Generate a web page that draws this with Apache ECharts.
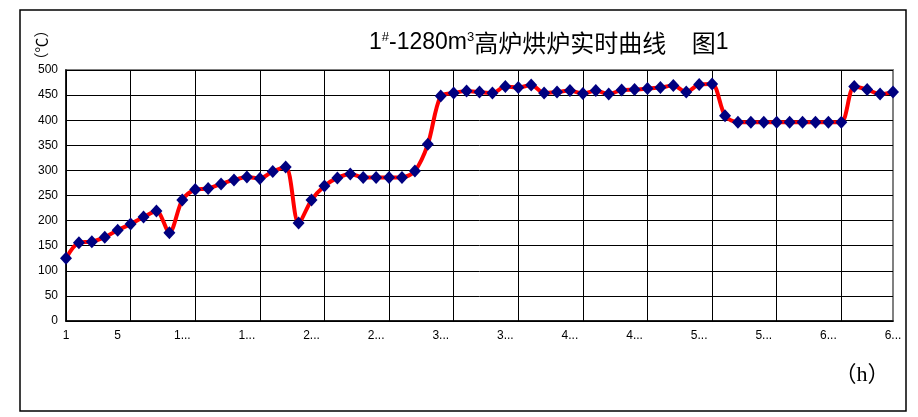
<!DOCTYPE html>
<html>
<head>
<meta charset="utf-8">
<script src="https://cdn.jsdelivr.net/npm/echarts@6/dist/echarts.min.js"></script>
<style>html,body{margin:0;padding:0;background:#fff;}#c{width:918px;height:417px;}</style>
</head>
<body>
<div id="c"></div>
<script>
// Hours (category axis)
var hours = ['1','2','3','4','5','6','7','8','9','10','11','12','13','14','15','16','17','18','19','20',
  '21','22','23','24','25','26','27','28','29','30','31','32','33','34','35','36','37','38','39','40',
  '41','42','43','44','45','46','47','48','49','50','51','52','53','54','55','56','57','58','59','60',
  '61','62','63','64','65'];
// Temperature (℃)
var temperature = [125,156,158,167,181,193,207,219,176,241,262,264,273,281,287,284,298,307,195,241,
  269,285,293,286,286,286,286,299,352,448,454,458,456,454,467,465,470,454,456,459,
  453,459,452,460,461,463,465,469,456,471,472,409,396,396,396,396,396,396,396,396,
  396,467,461,452,456];
// Hours whose tick label is shown
var labelHours = ['1','5','10','15','20','25','30','35','40','45','50','55','60','65'];
// Hours carrying a vertical grid line
var gridHours = ['1','6','11','16','21','26','31','36','41','46','51','56','61'];
var yTicks = [0,50,100,150,200,250,300,350,400,450,500];

var chart = echarts.init(document.getElementById('c'));
chart.setOption({
  animation: false,
  backgroundColor: '#fff',
  title: {
    left: 364, top: 26,
    text: '{n|1}{s|#}{n|-1280m}{s|3}{c|高炉烘炉实时曲线}{n|    }{c|图}{n|1}',
    textStyle: {
      fontWeight: 'normal',
      rich: {
        n: {fontFamily: 'Arial, Liberation Sans', fontSize: 23, fontWeight: 'normal', color: '#000'},
        s: {fontFamily: 'Arial, Liberation Sans', fontSize: 13, fontWeight: 'normal', color: '#000', verticalAlign: 'top'},
        c: {fontFamily: 'Noto Sans CJK SC', fontSize: 24, fontWeight: 'normal', color: '#000'}
      }
    }
  },
  graphic: [
    {type: 'rect', shape: {x: 20, y: 10, width: 886, height: 401}, style: {fill: 'none', stroke: '#000', lineWidth: 1.5}, z: 0},
    {type: 'text', x: 41, y: 45, rotation: Math.PI / 2, style: {text: '（℃）', font: '15px "Noto Sans CJK SC"', fill: '#000', align: 'center', verticalAlign: 'middle'}},
    {type: 'text', x: 862, y: 375, style: {text: '（h）', font: '22px "Liberation Serif", "Noto Sans CJK SC"', fill: '#000', align: 'center', verticalAlign: 'middle'}}
  ],
  grid: {left: 66, right: 25, top: 70, bottom: 96, show: true, borderColor: '#808080', borderWidth: 2, backgroundColor: 'transparent'},
  xAxis: {
    type: 'category',
    data: hours,
    boundaryGap: false,
    axisLine: {lineStyle: {color: '#000', width: 1.5}},
    axisTick: {show: false},
    axisLabel: {
      interval: function (i, v) { return labelHours.indexOf(v) >= 0; },
      formatter: function (v) { return v.length > 1 ? v.charAt(0) + '...' : v; },
      color: '#000', fontFamily: 'Arial, Liberation Sans', fontSize: 12, margin: 9
    },
    splitLine: {show: true, interval: function (i, v) { return gridHours.indexOf(v) >= 0; }, lineStyle: {color: '#000', width: 1}}
  },
  yAxis: {
    type: 'value',
    min: yTicks[0], max: yTicks[yTicks.length - 1], interval: 50,
    axisLine: {show: true, lineStyle: {color: '#000', width: 1.5}},
    axisTick: {show: false},
    axisLabel: {color: '#000', fontFamily: 'Arial, Liberation Sans', fontSize: 12, margin: 8},
    splitLine: {show: true, lineStyle: {color: '#000', width: 1}}
  },
  series: [{
    type: 'line',
    data: temperature,
    smooth: 0.3,
    showAllSymbol: true,
    lineStyle: {color: '#ff0000', width: 4},
    symbol: 'diamond',
    symbolSize: [12, 13],
    itemStyle: {color: '#000080', borderWidth: 0},
    z: 5
  }]
});
</script>
</body>
</html>
